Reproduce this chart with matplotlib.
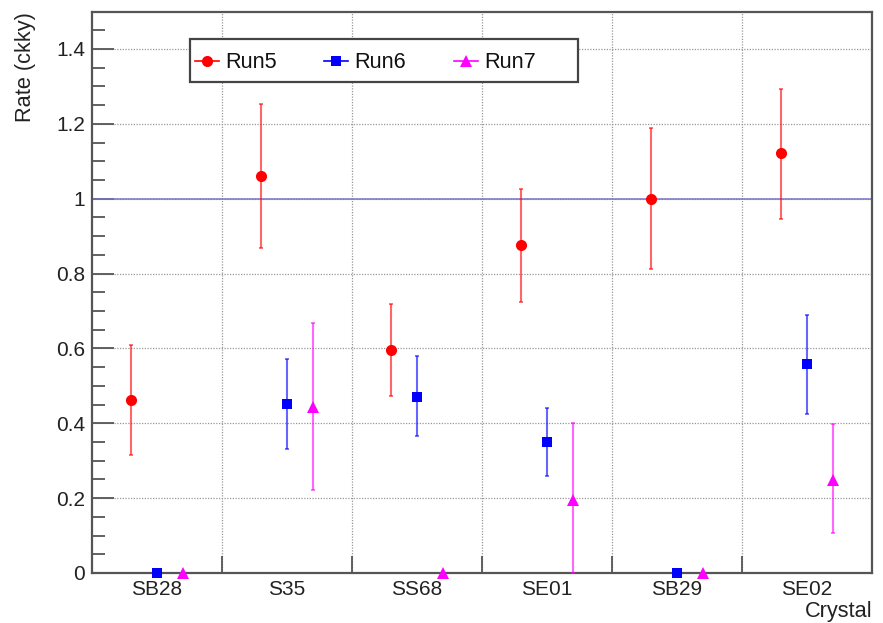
import matplotlib
matplotlib.use("Agg")
import matplotlib.pyplot as plt
from matplotlib.lines import Line2D
from matplotlib.patches import Rectangle
import numpy as np

plt.rcParams['font.family'] = ['Liberation Sans', 'DejaVu Sans']

crystals = ["SB28", "S35", "SS68", "SE01", "SB29", "SE02"]
series_names = ["Run5", "Run6", "Run7"]

run5 = [0.463, 1.061, 0.595, 0.877, 1.000, 1.121]
run5_lo = [0.316, 0.869, 0.472, 0.723, 0.811, 0.947]
run5_hi = [0.610, 1.252, 0.719, 1.027, 1.188, 1.293]

run6 = [0.0, 0.452, 0.471, 0.351, 0.0, 0.557]
run6_lo = [0.0, 0.332, 0.367, 0.260, 0.0, 0.424]
run6_hi = [0.0, 0.572, 0.579, 0.442, 0.0, 0.690]

run7 = [0.0, 0.443, 0.0, 0.196, 0.0, 0.248]
run7_lo = [0.0, 0.221, 0.0, 0.0, 0.0, 0.108]
run7_hi = [0.0, 0.667, 0.0, 0.402, 0.0, 0.399]

W, H = 883, 623


def fpx(x, y):
    """Pixel position (from top-left) to figure fraction."""
    return x / W, 1 - y / H


fig = plt.figure(figsize=(W / 100, H / 100), dpi=100)
ax = fig.add_axes([92 / W, 1 - 573 / H, (872 - 92) / W, (573 - 11.5) / H])

n = len(crystals)
centers = np.arange(n) + 0.5
offsets = [-0.2, 0.0, 0.2]
colors = ["#ff0000", "#0000ff", "#ff00ff"]
markers = ["o", "s", "^"]
msizes = [8.0, 7.6, 8.2]

data = [(run5, run5_lo, run5_hi), (run6, run6_lo, run6_hi), (run7, run7_lo, run7_hi)]

for (vals, lo, hi), off, c, m, ms in zip(data, offsets, colors, markers, msizes):
    vals = np.array(vals)
    lo = np.array(lo)
    hi = np.array(hi)
    x = centers + off
    has_err = (hi - lo) > 0
    ax.errorbar(x[has_err], vals[has_err],
                yerr=[vals[has_err] - lo[has_err], hi[has_err] - vals[has_err]],
                fmt="none", ecolor=c, elinewidth=1.5, capsize=1.6, capthick=1.3,
                alpha=0.6, zorder=3)
    ax.plot(x, vals, linestyle="none", marker=m, markersize=ms, color=c,
            markeredgewidth=0, zorder=4, clip_on=False)

# reference level
ax.axhline(1.0, color="#7474c8", linewidth=1.1, zorder=2)

ax.set_xlim(0, n)
ax.set_ylim(0, 1.5)

# y axis ticks
ax.set_yticks(np.arange(0, 1.41, 0.2))
ax.set_yticklabels(["0", "0.2", "0.4", "0.6", "0.8", "1", "1.2", "1.4"])
ax.set_yticks(np.arange(0, 1.51, 0.05), minor=True)
ax.tick_params(axis="y", which="major", direction="in", length=16, width=1.3,
               color="#555555", labelsize=15, pad=5, labelcolor="#222222")
ax.tick_params(axis="y", which="minor", direction="in", length=9, width=1.3,
               color="#555555")

# x axis: ticks at bin edges, labels at bin centres
ax.set_xticks(np.arange(1, n))
ax.set_xticklabels([])
ax.set_xticks(centers, minor=True)
ax.set_xticklabels(crystals, minor=True)
ax.tick_params(axis="x", which="major", direction="in", length=12, width=1.3,
               color="#555555")
ax.tick_params(axis="x", which="minor", length=0, labelsize=15, pad=5,
               labelcolor="#222222")

# grid
ax.grid(True, which="major", axis="both", linestyle=(0, (1, 1.2)),
        color="#999999", linewidth=0.9, zorder=1)
ax.set_axisbelow(True)

for s in ax.spines.values():
    s.set_color("#555555")
    s.set_linewidth(1.6)

# axis titles
fig.text(*fpx(26, 12), "Rate (ckky)", rotation=90, ha="center", va="top",
         fontsize=15.7, color="#222222")
fig.text(*fpx(873, 611), "Crystal", ha="right", va="center",
         fontsize=15.7, color="#222222")

# legend box with one entry per run
box_x0, box_y0, box_x1, box_y1 = 190, 39, 578, 81.5
fig.add_artist(Rectangle(fpx(box_x0, box_y1), (box_x1 - box_x0) / W,
                         (box_y1 - box_y0) / H, transform=fig.transFigure,
                         facecolor="white", edgecolor="#444444", linewidth=1.6,
                         zorder=10))
entry_x = [195, 324, 454]
entry_y = 61
for ex, name, c, m, ms in zip(entry_x, series_names, colors, markers, msizes):
    (x0, y0), (x1, _) = fpx(ex, entry_y), fpx(ex + 24, entry_y)
    fig.add_artist(Line2D([x0, x1], [y0, y0], transform=fig.transFigure,
                          color=c, linewidth=1.2, zorder=11))
    fig.add_artist(Line2D([(x0 + x1) / 2], [y0], transform=fig.transFigure,
                          color=c, marker=m, markersize=ms, markeredgewidth=0,
                          linestyle="none", zorder=12))
    fig.text(*fpx(ex + 30, entry_y + 1), name, ha="left", va="center",
             fontsize=15.7, color="#111111", zorder=12)

fig.savefig("out.png", dpi=100)
